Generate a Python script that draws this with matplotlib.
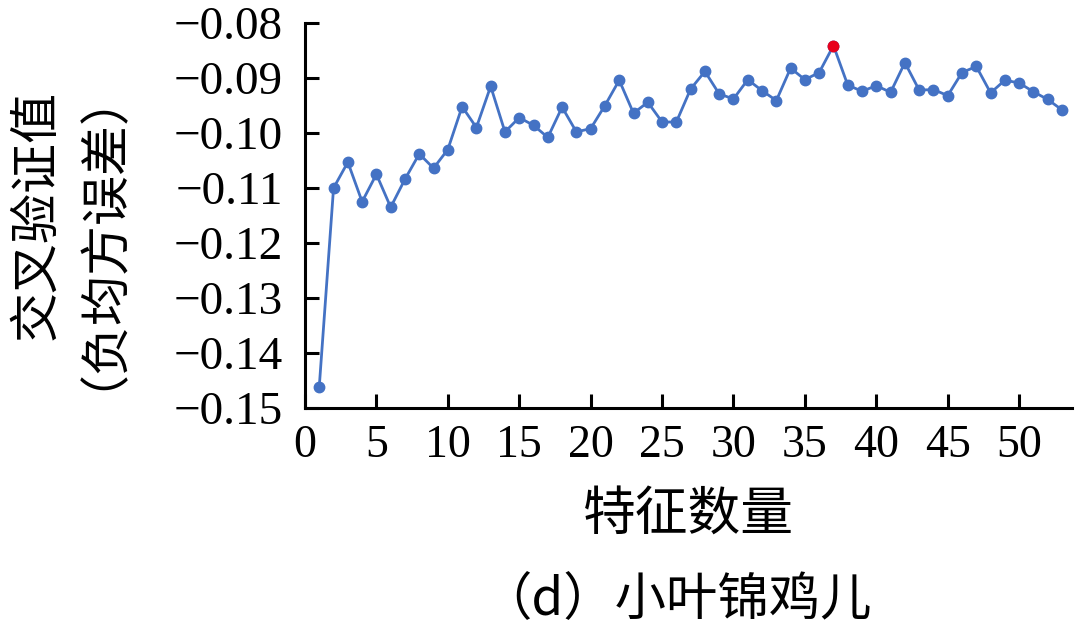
import numpy as np
import matplotlib
matplotlib.use('Agg')
import matplotlib.pyplot as plt

# 数据
n_features = list(range(1, 54))
neg_mse = [-0.1461, -0.1100, -0.1053, -0.1125, -0.1075, -0.1135, -0.1084, -0.1038, -0.1064, -0.1030,
           -0.0952, -0.0990, -0.0915, -0.0998, -0.0972, -0.0986, -0.1008, -0.0953, -0.0998, -0.0992,
           -0.0950, -0.0904, -0.0964, -0.0944, -0.0980, -0.0980, -0.0920, -0.0888, -0.0929, -0.0938,
           -0.0903, -0.0923, -0.0941, -0.0882, -0.0903, -0.0890, -0.0841, -0.0913, -0.0924, -0.0914,
           -0.0926, -0.0872, -0.0922, -0.0921, -0.0932, -0.0890, -0.0879, -0.0927, -0.0904, -0.0909,
           -0.0925, -0.0939, -0.0958]
best_n = 37
x_ticks = [0, 5, 10, 15, 20, 25, 30, 35, 40, 45, 50]
y_ticks = [-0.15, -0.14, -0.13, -0.12, -0.11, -0.10, -0.09, -0.08]
y_tick_labels = ['−0.15', '−0.14', '−0.13', '−0.12', '−0.11', '−0.10', '−0.09', '−0.08']

cjk = ['Noto Sans CJK SC', 'DejaVu Sans']
serif = ['Liberation Serif', 'DejaVu Serif']

fig = plt.figure(figsize=(10.8, 6.27), dpi=100)
ax = fig.add_axes([0.2824, 0.3493, 0.7102, 0.614])

ax.plot(n_features, neg_mse, color='#4472C4', lw=2.0, marker='o', ms=7.5, zorder=2)
i = n_features.index(best_n)
ax.plot([n_features[i]], [neg_mse[i]], 'o', color='#E8001C', ms=7.5, zorder=3)

ax.set_xlim(0, 53.7)
ax.set_ylim(-0.15, -0.08)
ax.set_xticks(x_ticks)
ax.set_yticks(y_ticks)
ax.set_yticklabels(y_tick_labels)

for s in ['top', 'right']:
    ax.spines[s].set_visible(False)
for s in ['left', 'bottom']:
    ax.spines[s].set_linewidth(2.2)
    ax.spines[s].set_color('black')

ax.tick_params(axis='both', direction='in', length=10, width=2.2, colors='black')
ax.tick_params(axis='y', pad=16)
ax.tick_params(axis='x', pad=12)
for lab in ax.get_yticklabels():
    lab.set_family(serif)
    lab.set_fontsize(34)
for lab in ax.get_xticklabels():
    lab.set_family(serif)
    lab.set_fontsize(33)

# y 轴标题 (两行, 竖排)
fig.text(0.052, 0.657, '交叉验证值\n（负均方误差）', family=cjk, fontsize=36,
         rotation=90, ha='center', va='center', multialignment='center', linespacing=0.68)
ax.set_xlabel('特征数量', family=cjk, fontsize=38, labelpad=14)

fig.text(0.626, 0.043, '（d）小叶锦鸡儿', family=cjk, fontsize=37, ha='center', va='center')

fig.savefig('out.png', dpi=100)
